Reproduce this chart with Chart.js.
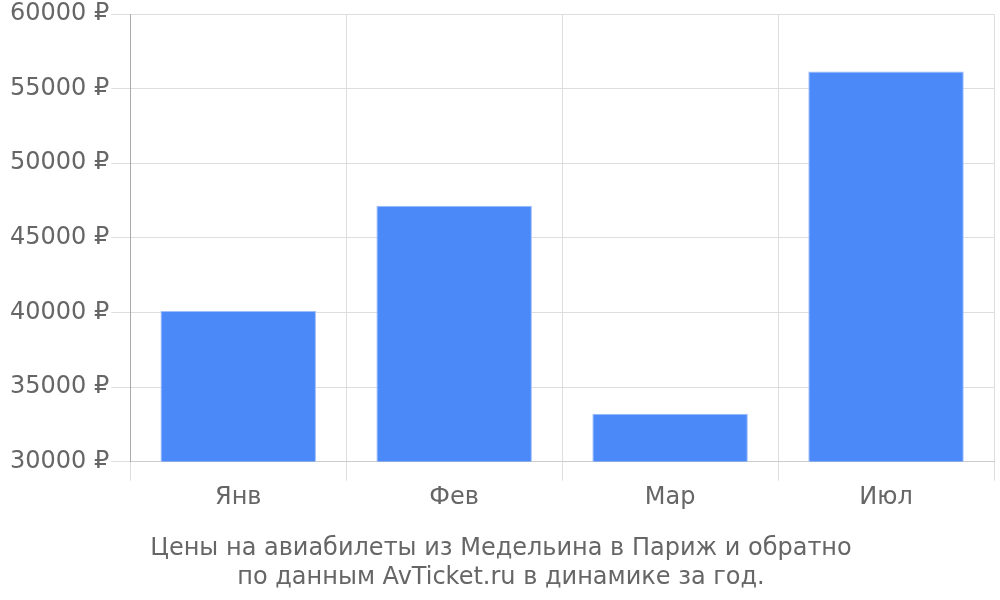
<!DOCTYPE html>
<html>
<head>
<meta charset="utf-8">
<script src="https://cdn.jsdelivr.net/npm/chart.js@4/dist/chart.umd.min.js"></script>
<style>
    html, body { margin: 0; padding: 0; background: #fff; }
    #wrap { width: 1000px; height: 600px; }
</style>
</head>
<body>
<div id="wrap"><canvas id="myChart" width="1000" height="600"></canvas></div>
<script>
const months = ['Янв', 'Фев', 'Мар', 'Июл']; // categories on x axis
const prices = [40100, 47150, 33200, 56150]; // price in rubles
const titleLines = [
    'Цены на авиабилеты из Медельина в Париж и обратно',
    'по данным AvTicket.ru в динамике за год.',
];

Chart.defaults.font.family = '"DejaVu Sans", sans-serif';
Chart.defaults.font.size = 24;
Chart.defaults.color = '#666';

const ctx = document.getElementById('myChart');
new Chart(ctx, {
    type: 'bar',
    data: {
        labels: months,
        datasets: [
            {
                label: 'Цена',
                data: prices,
                backgroundColor: '#4b89f9',
                borderColor: '#9dbdfb',
                borderWidth: 1,
            },
        ],
    },
    options: {
        responsive: false,
        animation: false,
        layout: { padding: { top: 0, right: 6, left: 8, bottom: 0 } },
        plugins: {
            legend: { display: false },
            tooltip: { enabled: false },
            title: {
                display: true,
                position: 'bottom',
                text: titleLines,
                color: '#666',
                font: { size: 24, weight: 'normal' },
                padding: { top: 19, bottom: 8 },
            },
        },
        scales: {
            x: {
                grid: {
                    color: '#dedede',
                    tickLength: 19,
                    tickColor: '#dedede',
                },
                border: { color: '#ccc' },
                ticks: { padding: 3 },
            },
            y: {
                min: 30000,
                max: 60000,
                grid: {
                    color: '#dedede',
                    tickLength: 19,
                    tickColor: '#dedede',
                },
                border: { color: '#aaa' },
                ticks: {
                    stepSize: 5000,
                    padding: 2,
                    font: { lineHeight: 1.0 },
                    callback: (v) => v + ' ₽',
                },
            },
        },
    },
});
</script>
</body>
</html>
